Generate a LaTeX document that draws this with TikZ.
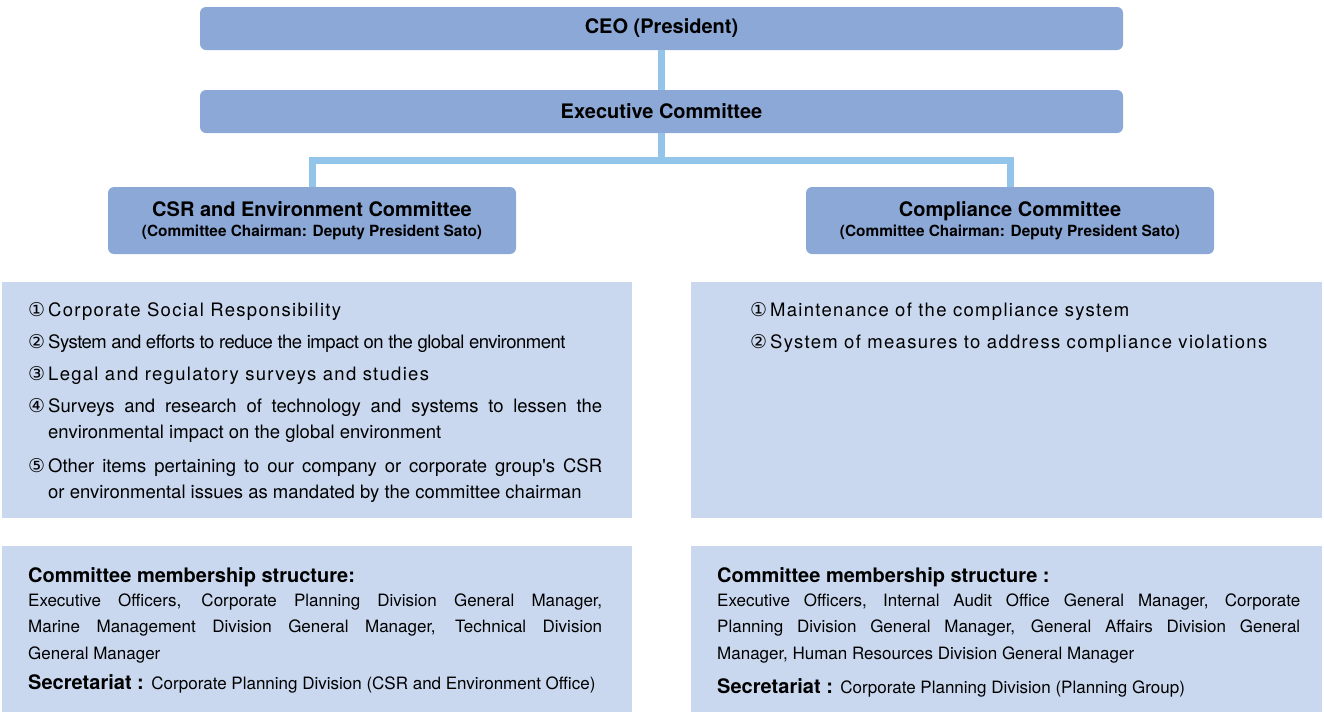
\documentclass[tikz,border=0pt]{standalone}
\usepackage{fontspec}
\usepackage{tikz}
\setmainfont{TeX Gyre Heros}
\newfontfamily\circfont{DejaVu Sans}
\definecolor{boxblue}{RGB}{140,168,214}
\definecolor{panelblue}{RGB}{201,216,239}
\definecolor{linkblue}{RGB}{147,196,233}
\newcommand{\cnum}[1]{\makebox[20pt][l]{\circfont\fontsize{19}{20}\selectfont #1}}

\begin{document}
\begin{tikzpicture}[x=1pt, y=-1pt,
  unitbox/.style={fill=boxblue, rounded corners=6pt, inner sep=0pt, font=\fontsize{20}{24}\selectfont\bfseries},
  panel/.style={fill=panelblue, inner sep=0pt},
  link/.style={draw=linkblue, line width=7pt, line join=miter},
  duty/.style={anchor=base west, inner sep=0pt, font=\fontsize{18.5}{26}\selectfont},
  wideduty/.style={duty, font=\fontsize{18.5}{26}\selectfont\addfontfeature{LetterSpace=7}},
  member/.style={anchor=base west, inner sep=0pt, align=justify, font=\fontsize{17}{26.5}\selectfont},
  memberhead/.style={anchor=base west, inner sep=0pt, font=\fontsize{20}{24}\selectfont\bfseries}]
\useasboundingbox (0,0) rectangle (1324,713);
% Boxes
\node[unitbox, minimum width=923pt, minimum height=43pt] (ceo) at (661.5,28.5) {CEO (President)};
\node[unitbox, minimum width=923pt, minimum height=43pt] (exec) at (661.5,111.5) {Executive Committee};
\node[unitbox, minimum width=408pt, minimum height=67pt, align=center, font=\fontsize{15.4}{19.5}\selectfont\bfseries] (csr) at (312,220.5)
  {{\fontsize{20}{19.5}\selectfont CSR and Environment Committee}\\(Committee Chairman: Deputy President Sato)};
\node[unitbox, minimum width=408pt, minimum height=67pt, align=center, font=\fontsize{15.4}{19.5}\selectfont\bfseries] (comp) at (1010,220.5)
  {{\fontsize{20}{19.5}\selectfont Compliance Committee}\\(Committee Chairman: Deputy President Sato)};
% Connectors
\coordinate (bus) at ([yshift=-27pt]exec.south);
\draw[link] (ceo) -- (exec);
\draw[link] (exec) -- (bus);
\draw[link] (csr.north) |- (bus) -| (comp.north);
% Panels
\node[panel, minimum width=630pt, minimum height=236pt] (csrduty) at (317,400) {};
\node[panel, minimum width=631pt, minimum height=236pt] (compduty) at (1006.5,400) {};
\node[panel, minimum width=630pt, minimum height=166pt] (csrmember) at (317,629) {};
\node[panel, minimum width=631pt, minimum height=166pt] (compmember) at (1006.5,629) {};
% Duties
\node[wideduty] (csrd1) at (28,316) {\cnum{①}Corporate Social Responsibility};
\node[duty, font=\fontsize{18.5}{26}\selectfont\addfontfeature{LetterSpace=-2.7}] (csrd2) at (28,348) {\cnum{②}System and efforts to reduce the impact on the global environment};
\node[wideduty] (csrd3) at (28,380) {\cnum{③}Legal and regulatory surveys and studies};
\node[duty] (csrd4) at (28,412) {\cnum{④}\parbox[t]{554pt}{Surveys and research of technology and systems to lessen the\linebreak environmental impact on the global environment}};
\node[duty] (csrd5) at (28,472) {\cnum{⑤}\parbox[t]{554pt}{Other items pertaining to our company or corporate group\textquotesingle s CSR\linebreak or environmental issues as mandated by the committee chairman}};
\node[wideduty] (compd1) at (750,316) {\cnum{①}Maintenance of the compliance system};
\node[wideduty] (compd2) at (750,348) {\cnum{②}System of measures to address compliance violations};
% Members
\node[memberhead] (csrhead) at (28,582) {Committee membership structure:};
\node[member, text width=574pt] (csrlist) at (28,606) {Executive Officers, Corporate Planning Division General Manager,\linebreak Marine Management Division General Manager, Technical Division\linebreak General Manager};
\node[memberhead] (csrsec) at (28,689) {Secretariat : {\mdseries\fontsize{17}{20}\selectfont Corporate Planning Division (CSR and Environment Office)}};
\node[memberhead] (comphead) at (717,582) {Committee membership structure :};
\node[member, text width=583pt] (complist) at (717,606) {Executive Officers, Internal Audit Office General Manager, Corporate\linebreak Planning Division General Manager, General Affairs Division General\linebreak Manager, Human Resources Division General Manager};
\node[memberhead] (compsec) at (717,693) {Secretariat : {\mdseries\fontsize{17}{20}\selectfont Corporate Planning Division (Planning Group)}};
\end{tikzpicture}
\end{document}
